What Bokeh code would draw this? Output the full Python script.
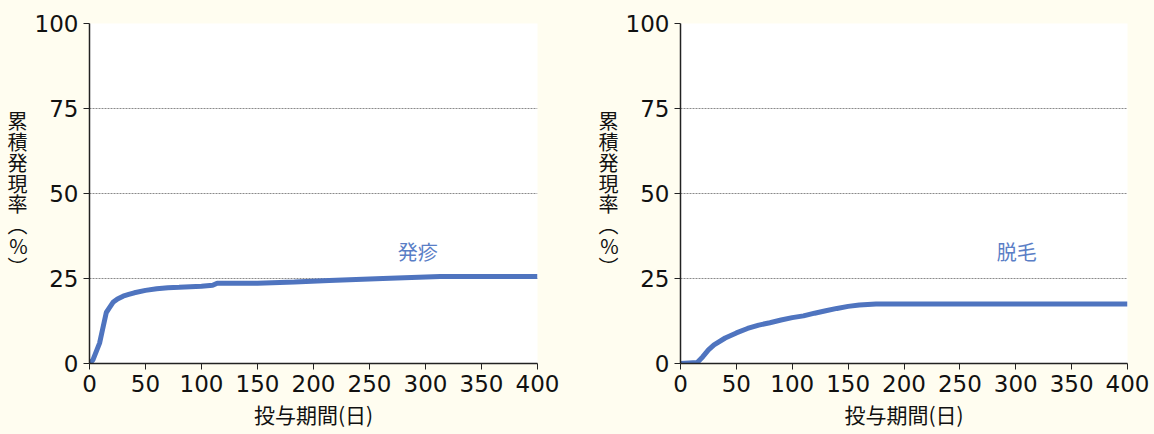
from bokeh.plotting import figure
from bokeh.layouts import row
from bokeh.models import Range1d, FixedTicker, Label
from bokeh.embed import file_html
from bokeh.resources import INLINE

# Data
rash_days = [0, 3, 6, 9, 12, 15, 18, 21, 25, 30, 35, 40, 50, 60, 70, 80, 100, 110, 114, 150, 183, 214, 262, 313, 400]
rash_pct = [0, 1, 3.5, 6, 10.5, 15, 16.5, 18, 19, 19.8, 20.3, 20.8, 21.5, 22, 22.3, 22.4, 22.7, 23, 23.6, 23.6, 24, 24.4, 25, 25.6, 25.6]

hair_days = [0, 15, 20, 25, 30, 40, 50, 60, 70, 80, 90, 100, 110, 120, 130, 140, 150, 160, 175, 400]
hair_pct = [0, 0.3, 2, 4, 5.5, 7.5, 9, 10.3, 11.3, 12, 12.8, 13.5, 14, 14.8, 15.5, 16.2, 16.8, 17.2, 17.5, 17.5]

x_ticks = [0, 50, 100, 150, 200, 250, 300, 350, 400]
y_ticks = [0, 25, 50, 75, 100]
x_title = "投与期間(日)"
y_title = "\n".join(["累", "積", "発", "現", "率", "︵", "%", "︶"])
names = ["発疹", "脱毛"]

BG = "#fffdf0"
LINE = "#4f74bf"
FONT = "Noto Sans CJK JP"
NUM_FONT = "DejaVu Sans"


def panel(days, pct, name, width, left, right, name_x):
    p = figure(width=width, height=434, x_range=Range1d(0, 400), y_range=Range1d(0, 100),
               output_backend="svg", toolbar_location=None,
               min_border_left=left, min_border_right=right, min_border_top=23, min_border_bottom=71)
    p.background_fill_color = "white"
    p.border_fill_color = BG
    p.outline_line_color = None
    p.xgrid.grid_line_color = None
    p.ygrid.grid_line_color = "#8a8a8a"
    p.ygrid.grid_line_dash = "2 1"
    p.ygrid.grid_line_width = 1
    p.xaxis.ticker = FixedTicker(ticks=x_ticks)
    p.yaxis.ticker = FixedTicker(ticks=y_ticks)
    for ax in (p.xaxis[0], p.yaxis[0]):
        ax.axis_line_color = "#222222"
        ax.axis_line_width = 1.5
        ax.major_tick_line_color = "#222222"
        ax.major_tick_out = 6
        ax.major_tick_in = 0
        ax.minor_tick_line_color = None
        ax.major_label_text_font = NUM_FONT
        ax.major_label_text_font_size = "23px"
        ax.major_label_text_color = "#111111"
        ax.axis_label_text_font = FONT
        ax.axis_label_text_font_style = "normal"
        ax.axis_label_text_color = "#111111"
    p.xaxis.major_label_standoff = 5
    p.yaxis.major_label_standoff = 5
    p.xaxis.axis_label = x_title
    p.xaxis.axis_label_text_font_size = "21px"
    p.xaxis.axis_label_standoff = 4
    p.yaxis.axis_label = y_title
    p.yaxis.axis_label_orientation = "horizontal"
    p.yaxis.axis_label_text_font_size = "20px"
    p.yaxis.axis_label_text_line_height = 0.72
    p.yaxis.axis_label_standoff = 4

    p.line(days, pct, line_color=LINE, line_width=5)
    p.add_layout(Label(x=name_x, y=33, text=name, text_align="center", text_baseline="middle",
                       text_font=FONT, text_font_size="20px", text_color="#5a7ec6"))
    return p


p1 = panel(rash_days, rash_pct, names[0], 591, 89, 54, 293)
p2 = panel(hair_days, hair_pct, names[1], 563, 89, 27, 301)
layout = row(p1, p2)
layout.styles = {"background-color": BG}

html = file_html(layout, INLINE)
style = "<style>html, body { background-color: %s; margin: 0; }</style>" % BG
html = html.replace("</head>", style + "</head>", 1)
open("out.html", "w").write(html)
